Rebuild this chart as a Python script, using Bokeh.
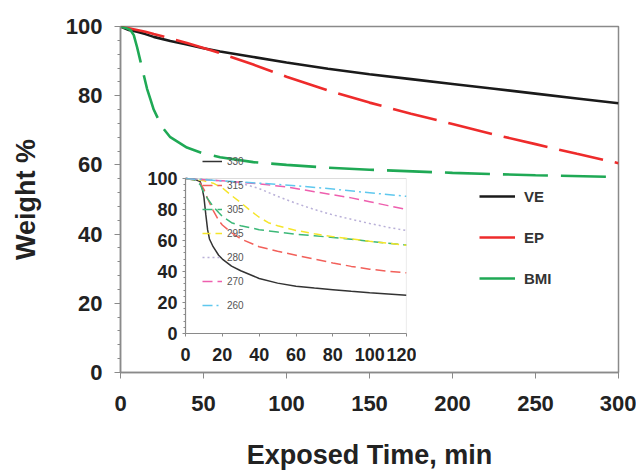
from bokeh.plotting import figure
from bokeh.models import Range1d, Legend, LegendItem, FixedTicker, BoxAnnotation
from bokeh.embed import file_html
from bokeh.resources import INLINE

# ---------------- main chart data ----------------
ve_t = [0, 5, 10, 15, 20, 30, 40, 50, 60, 80, 100, 125, 150, 175, 200, 225, 250, 275, 300]
ve_w = [100, 99, 98.5, 97.8, 97, 95.8, 94.8, 93.7, 92.8, 91.2, 89.6, 87.8, 86.2, 84.8, 83.4, 82, 80.6, 79.2, 77.8]

ep_t = [0, 5, 10, 15, 20, 30, 40, 50, 60, 80, 100, 125, 150, 175, 200, 225, 250, 275, 300]
ep_w = [100, 99.5, 99, 98.5, 97.8, 96.6, 95.2, 93.8, 92.3, 89, 85.5, 81.5, 78, 74.8, 71.8, 68.8, 66, 63.2, 60.5]

bmi_t = [0, 3, 6, 8, 10, 12, 14, 16, 18, 20, 25, 30, 40, 50, 60, 80, 100, 125, 150, 200, 250, 300]
bmi_w = [100, 99.6, 99, 97.5, 94, 90, 86, 82, 79, 76, 71, 68, 65, 63.3, 62.2, 60.8, 60, 59.2, 58.6, 57.7, 57, 56.5]

main_series = ["VE", "EP", "BMI"]
main_colors = ["#1a1a1a", "#ee2b2b", "#1fa955"]
main_dashes = ["solid", "45 12", "45 13"]

x_ticks = [0, 50, 100, 150, 200, 250, 300]
y_ticks = [0, 20, 40, 60, 80, 100]

# ---------------- inset data ----------------
t330 = [0, 5, 8, 9, 10, 11, 12, 13, 15, 18, 20, 25, 30, 40, 50, 60, 70, 80, 90, 100, 110, 120]
w330 = [100, 99.5, 98, 94, 88, 77, 67, 61, 56, 50.5, 48, 43.5, 40.5, 35.5, 32.5, 30.5, 29.3, 28.3, 27.2, 26.3, 25.5, 24.7]
t315 = [0, 5, 8, 10, 12, 15, 18, 20, 25, 30, 40, 50, 60, 70, 80, 90, 100, 110, 120]
w315 = [100, 99, 97, 93, 87, 79.5, 73, 70, 65, 61, 56, 53, 50.5, 48, 45.5, 43.3, 41.5, 40.2, 39.2]
t305 = [0, 5, 8, 10, 12, 15, 18, 20, 25, 30, 40, 50, 60, 70, 80, 90, 100, 110, 120]
w305 = [100, 99, 96, 91, 87, 82, 78, 75.5, 71.5, 69.5, 67, 65.5, 64, 63, 62, 60.8, 59.5, 58.3, 57.1]
t295 = [0, 10, 15, 20, 25, 30, 35, 40, 45, 50, 60, 70, 80, 90, 100, 110, 120]
w295 = [100, 98.5, 97, 94, 89, 84.5, 79.5, 75, 71.5, 69.5, 66.5, 64.3, 62.5, 61, 59.5, 58.2, 57]
t280 = [0, 10, 20, 30, 40, 50, 60, 70, 80, 90, 100, 110, 120]
w280 = [100, 99.5, 98.5, 97, 93.5, 88.5, 84, 80, 76.5, 73.7, 71, 68.5, 66.4]
t270 = [0, 20, 40, 55, 70, 80, 90, 100, 110, 120]
w270 = [100, 98.5, 96.5, 94.6, 91.5, 89.5, 87.5, 85, 82.5, 80]
t260 = [0, 20, 40, 60, 80, 100, 120]
w260 = [100, 98.5, 97, 95.3, 93.2, 90.8, 88.5]

inset_labels = ["330", "315", "305", "295", "280", "270", "260"]
inset_colors = ["#333333", "#f2605a", "#3cb878", "#f5e52a", "#b9b0d8", "#ee5fae", "#5fc8ee"]
inset_dashes = ["solid", "10 5", "10 5", "8 5", "2 3", "10 5", "10 4 2 4"]
inset_x_ticks = [0, 20, 40, 60, 80, 100, 120]
inset_y_ticks = [0, 20, 40, 60, 80, 100]

FONT = "Liberation Sans"
AX = "#8a8a8a"

# ---------------- main figure ----------------
p = figure(frame_width=498, frame_height=346, output_backend="svg", toolbar_location=None,
           x_range=Range1d(0, 300), y_range=Range1d(0, 100),
           min_border_left=120, min_border_right=18, min_border_top=26, min_border_bottom=98)
p.grid.visible = False
p.outline_line_color = AX
p.outline_line_width = 1.5
p.background_fill_color = "white"
p.border_fill_color = "white"

for ax in (p.xaxis[0], p.yaxis[0]):
    ax.axis_line_color = AX
    ax.axis_line_width = 1.5
    ax.major_tick_line_color = AX
    ax.minor_tick_line_color = AX
    ax.major_label_text_font = FONT
    ax.major_label_text_font_style = "bold"
    ax.major_label_text_font_size = "22px"
    ax.major_label_text_color = "#222222"
    ax.axis_label_text_font = FONT
    ax.axis_label_text_font_style = "bold"
    ax.axis_label_text_font_size = "27px"
    ax.axis_label_text_color = "#222222"
    ax.major_tick_in = 0
    ax.major_tick_out = 6
    ax.minor_tick_in = 0
    ax.minor_tick_out = 3

p.xaxis.ticker = FixedTicker(ticks=x_ticks)
p.xaxis.minor_tick_line_color = None
p.xaxis.major_label_standoff = 17
p.xaxis.axis_label = "Exposed Time, min"
p.xaxis.axis_label_standoff = 26

p.yaxis.ticker = FixedTicker(ticks=y_ticks, minor_ticks=list(range(0, 101, 4)))
p.yaxis.major_label_standoff = 12
p.yaxis.axis_label = "Weight %"
p.yaxis.axis_label_standoff = 22

main_data = [(ve_t, ve_w), (ep_t, ep_w), (bmi_t, bmi_w)]
items = []
for (t, w), name, c, d in zip(main_data, main_series, main_colors, main_dashes):
    r = p.line(t, w, line_color=c, line_width=2.6, line_dash=d)
    items.append(LegendItem(label=name, renderers=[r]))

leg = Legend(items=items, location=(359, 84), orientation="vertical",
             glyph_width=36, glyph_height=20, label_height=20, spacing=21,
             label_standoff=9, padding=0, margin=0,
             border_line_color=None, background_fill_alpha=0,
             label_text_font=FONT, label_text_font_style="bold",
             label_text_font_size="15px", label_text_color="#333333")
p.add_layout(leg, "center")

# ---------------- inset figure ----------------
# frame extends above the 0-100 box so that the legend (which starts above the box) is not clipped
ins = figure(frame_width=221, frame_height=182, output_backend="svg", toolbar_location=None,
             x_range=Range1d(0, 120), y_range=Range1d(0, 182 / 1.55),
             min_border_left=50, min_border_right=10, min_border_top=3, min_border_bottom=45,
             styles={"position": "absolute", "left": "135px", "top": "148px"})
ins.grid.visible = False
ins.outline_line_color = None
ins.background_fill_color = None
ins.border_fill_color = None
ins.add_layout(BoxAnnotation(left=0, right=120, bottom=0, top=100, fill_alpha=0,
                             line_color=AX, line_width=1.2))

for ax in (ins.xaxis[0], ins.yaxis[0]):
    ax.axis_line_color = AX
    ax.axis_line_width = 1.2
    ax.major_tick_line_color = AX
    ax.minor_tick_line_color = AX
    ax.major_label_text_font = FONT
    ax.major_label_text_font_style = "bold"
    ax.major_label_text_font_size = "18px"
    ax.major_label_text_color = "#222222"
    ax.major_tick_in = 0
    ax.major_tick_out = 3
    ax.minor_tick_in = 0
    ax.minor_tick_out = 2

ins.xaxis.ticker = FixedTicker(ticks=inset_x_ticks)
ins.xaxis.minor_tick_line_color = None
ins.xaxis.major_label_standoff = 11
ins.yaxis.ticker = FixedTicker(ticks=inset_y_ticks, minor_ticks=list(range(0, 101, 4)))
ins.yaxis.bounds = (0, 100)
ins.yaxis.major_label_standoff = 5

inset_data = [(t330, w330), (t315, w315), (t305, w305), (t295, w295),
              (t280, w280), (t270, w270), (t260, w260)]
ins_items = []
for (t, w), lab, c, d in zip(inset_data, inset_labels, inset_colors, inset_dashes):
    r = ins.line(t, w, line_color=c, line_width=1.5, line_dash=d)
    ins_items.append(LegendItem(label=lab, renderers=[r]))

ileg = Legend(items=ins_items, location=(17, 20), orientation="vertical",
              glyph_width=20, glyph_height=16, label_height=16, spacing=8,
              label_standoff=5, padding=0, margin=0,
              border_line_color=None, background_fill_alpha=0,
              label_text_font=FONT, label_text_font_size="10px",
              label_text_color="#555555")
ins.add_layout(ileg, "center")

open("out.html", "w").write(file_html([p, ins], INLINE))
